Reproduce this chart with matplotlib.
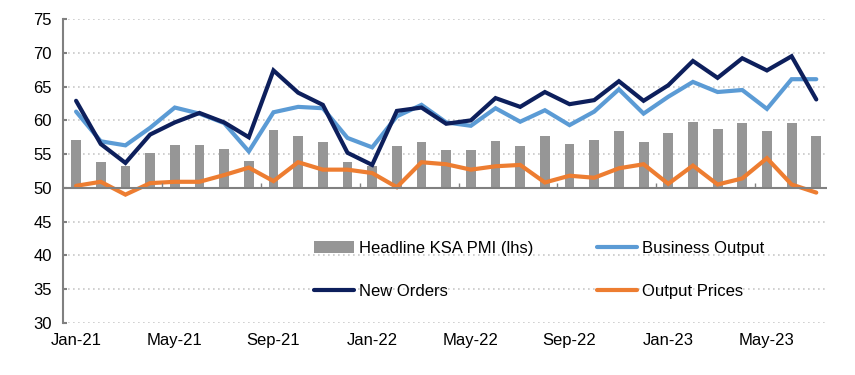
import matplotlib.pyplot as plt
import numpy as np

plt.rcParams['font.family'] = ['Liberation Sans', 'DejaVu Sans']

# monthly data, Jan-21 .. Jul-23
months = ['Jan-21', 'Feb-21', 'Mar-21', 'Apr-21', 'May-21', 'Jun-21', 'Jul-21', 'Aug-21',
          'Sep-21', 'Oct-21', 'Nov-21', 'Dec-21', 'Jan-22', 'Feb-22', 'Mar-22', 'Apr-22',
          'May-22', 'Jun-22', 'Jul-22', 'Aug-22', 'Sep-22', 'Oct-22', 'Nov-22', 'Dec-22',
          'Jan-23', 'Feb-23', 'Mar-23', 'Apr-23', 'May-23', 'Jun-23', 'Jul-23']

headline_pmi = [57.1, 53.9, 53.3, 55.2, 56.4, 56.4, 55.8, 54.0, 58.6, 57.7, 56.8, 53.9,
                53.2, 56.2, 56.8, 55.6, 55.6, 57.0, 56.2, 57.7, 56.5, 57.1, 58.5, 56.8,
                58.2, 59.8, 58.7, 59.6, 58.5, 59.6, 57.7]
business_output = [61.3, 56.9, 56.3, 58.9, 61.9, 61.0, 59.6, 55.4, 61.2, 62.0, 61.8, 57.4,
                   56.0, 60.6, 62.3, 59.7, 59.2, 61.8, 59.8, 61.5, 59.3, 61.3, 64.6, 61.0,
                   63.5, 65.7, 64.2, 64.5, 61.7, 66.1, 66.1]
new_orders = [62.9, 56.5, 53.7, 57.9, 59.7, 61.1, 59.7, 57.5, 67.4, 64.1, 62.3, 55.2,
              53.4, 61.4, 61.9, 59.5, 60.0, 63.3, 62.0, 64.2, 62.4, 63.0, 65.8, 62.9,
              65.2, 68.8, 66.3, 69.2, 67.4, 69.5, 63.1]
output_prices = [50.3, 50.9, 49.0, 50.7, 50.9, 50.9, 51.9, 53.0, 51.0, 53.8, 52.7, 52.7,
                 52.2, 50.1, 53.8, 53.5, 52.7, 53.2, 53.4, 50.8, 51.8, 51.5, 52.9, 53.5,
                 50.6, 53.3, 50.5, 51.4, 54.4, 50.5, 49.3]

x = np.arange(len(months))
base = 50

fig = plt.figure(figsize=(8.55, 3.75), dpi=100)
ax = fig.add_axes([0.0737, 0.139, 0.894, 0.81])

# grid lines (dotted)
for yv in range(30, 80, 5):
    if yv != base:
        ax.axhline(yv, color='#c8c8c8', linestyle=(0, (1, 2)), linewidth=1.2, zorder=0)

ax.bar(x, np.array(headline_pmi) - base, bottom=base, width=0.4, color='#969696',
       label='Headline KSA PMI (lhs)', zorder=2)
ax.plot(x, new_orders, color='#0d1f5c', linewidth=3, label='New Orders',
        solid_capstyle='round', solid_joinstyle='miter', zorder=4)
ax.plot(x, business_output, color='#5b9bd5', linewidth=3, label='Business Output',
        solid_capstyle='round', solid_joinstyle='miter', zorder=3)
ax.plot(x, output_prices, color='#ed7d31', linewidth=3, label='Output Prices',
        solid_capstyle='round', solid_joinstyle='miter', zorder=3)

# horizontal axis crosses at 50
ax.axhline(base, color='#808080', linewidth=1.5, zorder=5)
ax.vlines(np.arange(3.5, len(months), 4), base, base + 0.7, color='#808080',
          linewidth=1, zorder=5)

ax.set_xlim(-0.53, 30.45)
ax.set_ylim(30, 75)
ax.set_yticks(range(30, 80, 5))
ax.set_xticks(x[::4])
ax.set_xticklabels(months[::4])
ax.tick_params(axis='x', length=0, pad=7, labelsize=12)
ax.tick_params(axis='y', direction='in', length=3, width=1.5, color='#808080',
               labelsize=12, pad=8)

for side in ['top', 'right', 'bottom']:
    ax.spines[side].set_visible(False)
ax.spines['left'].set_color('#808080')
ax.spines['left'].set_linewidth(1.5)

handles, labels = ax.get_legend_handles_labels()
order = [3, 0, 1, 2]  # bar first
leg = ax.legend([handles[i] for i in order], [labels[i] for i in order],
                ncol=2, frameon=False, fontsize=12, loc='center left',
                bbox_to_anchor=(0.318, 0.175), handlelength=2.4, handletextpad=0.3,
                labelspacing=1.7, columnspacing=3.8, borderpad=0)

plt.savefig('out.png', dpi=100)
